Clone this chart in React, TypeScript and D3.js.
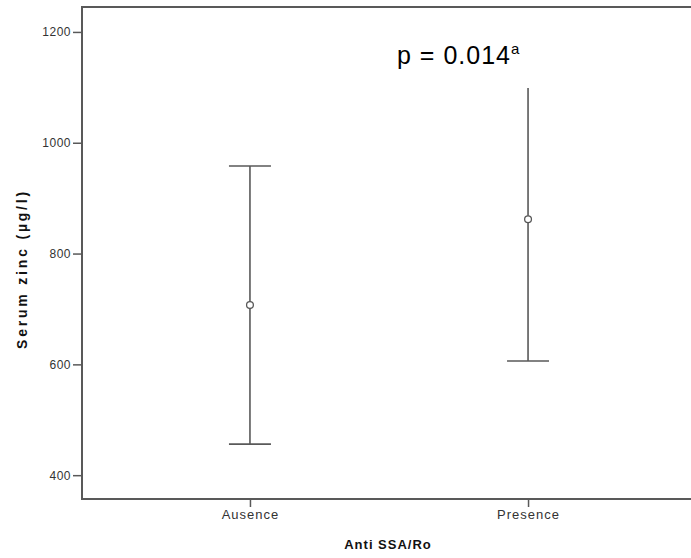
import React, { useRef, useEffect } from "react";
import * as d3 from "d3";

// values
const groups = ["Ausence", "Presence"];
const means = [707, 862];
const lower = [456, 606];
const upper = [958, 1099];
const upperCap = [true, false]; // the p-value box hides the top cap of Presence
const yTicks = [400, 600, 800, 1000, 1200];

const width = 691;
const height = 558;

const App = () => {
  const ref = useRef<SVGSVGElement>(null);

  useEffect(() => {
    const svg = d3.select(ref.current);
    svg.selectAll("*").remove();

    const left = 82, right = 696, top = 7, bottom = 499;
    const axisColor = "#595959";

    const x = d3.scalePoint<string>().domain(groups).range([left, right]).padding(0.604);
    const y = d3.scaleLinear().domain([357, 1245]).range([bottom, top]);

    // frame (right side falls outside the picture)
    svg.append("path")
      .attr("d", `M${right + 10},${top}H${left}V${bottom}H${right + 10}`)
      .attr("fill", "none").attr("stroke", axisColor).attr("stroke-width", 2);

    // y axis
    const yAxis = d3.axisLeft(y).tickValues(yTicks).tickFormat(d3.format("d")).tickSize(9).tickPadding(2).tickSizeOuter(0);
    svg.append("g")
      .attr("transform", `translate(${left},0)`)
      .call(yAxis)
      .call(g => g.select(".domain").remove())
      .call(g => g.selectAll(".tick line").attr("stroke", axisColor).attr("stroke-width", 1.5))
      .call(g => g.selectAll(".tick text")
        .attr("font-family", "Liberation Sans, Arial, sans-serif")
        .attr("font-size", 12)
        .attr("letter-spacing", 0.5)
        .attr("fill", "#333"));

    // x axis
    const xAxis = d3.axisBottom(x).tickSize(8).tickPadding(3).tickSizeOuter(0);
    svg.append("g")
      .attr("transform", `translate(0,${bottom})`)
      .call(xAxis)
      .call(g => g.select(".domain").remove())
      .call(g => g.selectAll(".tick line").attr("stroke", axisColor).attr("stroke-width", 1.5))
      .call(g => g.selectAll(".tick text")
        .attr("font-family", "Liberation Sans, Arial, sans-serif")
        .attr("font-size", 13)
        .attr("letter-spacing", 1)
        .attr("fill", "#333"));

    // error bars
    const capHalf = 21;
    const bars = svg.append("g")
      .attr("stroke", axisColor)
      .attr("stroke-width", 1.6)
      .attr("fill", "none");

    groups.forEach((grp, i) => {
      const cx = x(grp) as number;
      bars.append("line")
        .attr("x1", cx).attr("x2", cx)
        .attr("y1", y(lower[i])).attr("y2", y(upper[i]));
      bars.append("line")
        .attr("x1", cx - capHalf).attr("x2", cx + capHalf)
        .attr("y1", y(lower[i])).attr("y2", y(lower[i]));
      if (upperCap[i]) {
        bars.append("line")
          .attr("x1", cx - capHalf).attr("x2", cx + capHalf)
          .attr("y1", y(upper[i])).attr("y2", y(upper[i]));
      }
      bars.append("circle")
        .attr("cx", cx).attr("cy", y(means[i]))
        .attr("r", 3.4)
        .attr("fill", "white")
        .attr("stroke-width", 1.3);
    });

    // axis titles
    svg.append("text")
      .attr("x", 388).attr("y", 549)
      .attr("text-anchor", "middle")
      .attr("font-family", "Liberation Sans, Arial, sans-serif")
      .attr("font-weight", "bold")
      .attr("font-size", 13)
      .attr("letter-spacing", 1)
      .attr("fill", "#111")
      .text("Anti SSA/Ro");

    svg.append("text")
      .attr("transform", `translate(27,${(top + bottom) / 2 + 16}) rotate(-90)`)
      .attr("text-anchor", "middle")
      .attr("font-family", "Liberation Sans, Arial, sans-serif")
      .attr("font-weight", "bold")
      .attr("font-size", 14)
      .attr("letter-spacing", 2.8)
      .attr("fill", "#111")
      .text("Serum zinc (µg/l)");

    // p-value annotation
    const p = svg.append("text")
      .attr("x", 397).attr("y", 64)
      .attr("font-family", "Liberation Sans, Arial, sans-serif")
      .attr("font-size", 25)
      .attr("letter-spacing", 1)
      .attr("fill", "#000");
    p.append("tspan").text("p = 0.014");
    p.append("tspan")
      .attr("font-size", 15)
      .attr("dy", -10)
      .attr("letter-spacing", 0)
      .text("a");
  }, []);

  return (
    <svg
      ref={ref}
      width={width}
      height={height}
      style={{ position: "absolute", left: 0, top: 0, background: "white" }}
    ></svg>
  );
};

export default App;
